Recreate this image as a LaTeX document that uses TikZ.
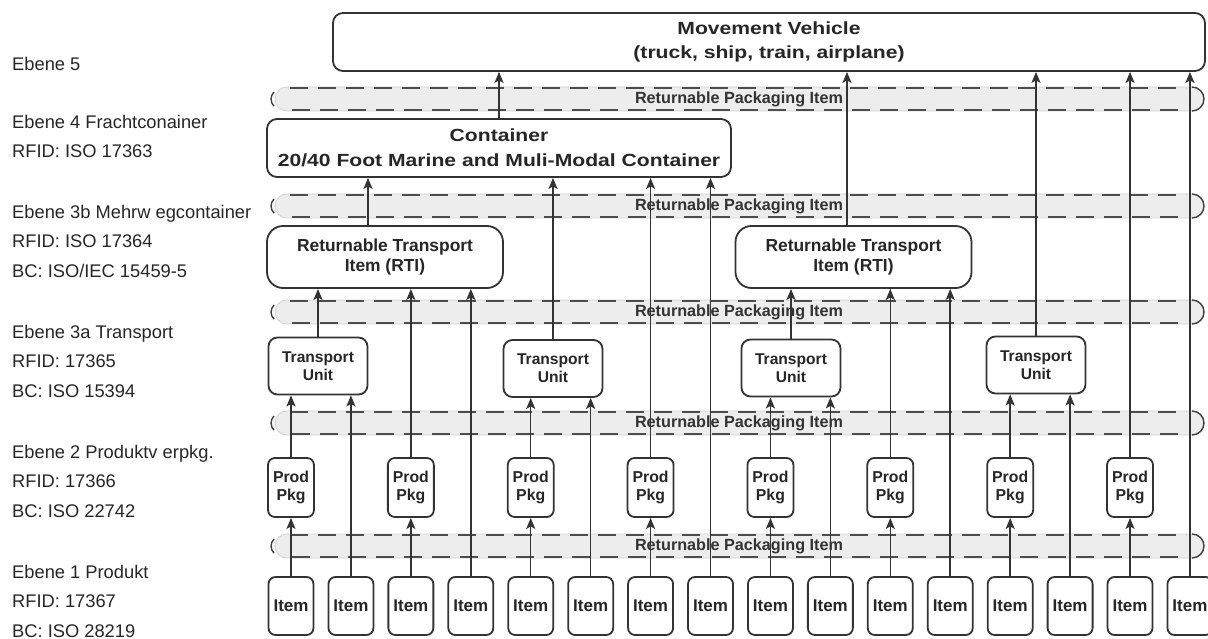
\documentclass[tikz,border=0pt]{standalone}
\usepackage{fontspec}
\setmainfont{Liberation Sans}
\newfontfamily\widesf[FakeStretch=1.2]{Liberation Sans}
\usetikzlibrary{arrows.meta}

\def\itemgap{59.93}

\begin{document}
\begin{tikzpicture}[x=1pt,y=-1pt,line join=round]
    \tikzstyle{flow}=[draw=black!80, line width=1.5pt, -{Stealth[length=11pt,width=9pt,inset=2.5pt]}]
    \tikzstyle{box}=[draw=black!80, line width=1.8pt, fill=white, text=black!85, align=center, inner sep=0pt, rounded corners=7pt]
    \tikzstyle{itembox}=[box, minimum width=45pt, minimum height=58pt, font=\fontsize{17}{20}\selectfont\bfseries]
    \tikzstyle{prodbox}=[box, minimum width=46pt, minimum height=59pt, font=\fontsize{15.8}{18}\selectfont\bfseries]
    \tikzstyle{unitbox}=[box, minimum width=99pt, minimum height=57pt, rounded corners=9pt, font=\fontsize{15.6}{18}\selectfont\bfseries]
    \tikzstyle{rtibox}=[box, minimum width=236pt, minimum height=62pt, rounded corners=16pt, font=\fontsize{17.4}{20}\selectfont\bfseries]
    \tikzstyle{bigbox}=[box, minimum height=58pt, rounded corners=10pt, font=\widesf\fontsize{17.6}{24.5}\selectfont\bfseries]
    \tikzstyle{ebene}=[anchor=north west, align=left, inner sep=0pt, text=black!85, font=\fontsize{18.3}{29.5}\selectfont]
    \tikzstyle{bandlabel}=[inner sep=0pt, text=black!80, font=\fontsize{16.2}{18}\selectfont\bfseries]
    \tikzstyle{bandfill}=[fill=black!7, draw=black!18, line width=0.8pt, rounded corners=12pt]
    \tikzstyle{bandline}=[draw=black!70, line width=2pt, dash pattern=on 18pt off 10pt]

    \useasboundingbox (0,0) rectangle (1208,639);

    % Level descriptions on the left
    \node[ebene] (L5) at (12,57) {Ebene 5};
    \node[ebene] (L4) at (12,115) {Ebene 4 Frachtconainer\\RFID: ISO 17363};
    \node[ebene] (L3b) at (12,205) {Ebene 3b Mehrw egcontainer\\RFID: ISO 17364\\BC: ISO/IEC 15459-5};
    \node[ebene] (L3a) at (12,325) {Ebene 3a Transport\\RFID: 17365\\BC: ISO 15394};
    \node[ebene] (L2) at (12,445) {Ebene 2 Produktv erpkg.\\RFID: 17366\\BC: ISO 22742};
    \node[ebene] (L1) at (12,565) {Ebene 1 Produkt\\RFID: 17367\\BC: ISO 28219};

    % Draw the returnable packaging bands
    \foreach \name/\y in {1/546,2/423,3/312,4/206,5/99} {
        \path[bandfill] (275,\y-12) rectangle (1204,\y+12);
        \draw[bandline] (290,\y-11) -- (1186,\y-11);
        \draw[bandline] (292,\y+11) -- (1186,\y+11);
        \draw[black!75, line width=1.4pt] (1192,\y-12) arc[start angle=90, end angle=-90, radius=12pt];
        \draw[black!75, line width=1.4pt] (274,\y-7) arc[start angle=135, end angle=225, radius=10pt];
        \node[bandlabel] (R-\name) at (739,\y) {Returnable Packaging Item};
    }

    % Draw the items
    \foreach \name in {1,...,16}
        \node[itembox] (I-\name) at ({291+\itemgap*(\name-1)},606) {Item};

    % Draw the product packages above every odd item
    \foreach \name in {1,3,...,15}
        \node[prodbox] (P-\name) at ({291+\itemgap*(\name-1)},487.5) {Prod\\Pkg};

    % Transport units
    \node[unitbox] (T-1) at (318,366) {Transport\\Unit};
    \node[unitbox] (T-2) at (553,368.5) {Transport\\Unit};
    \node[unitbox] (T-3) at (791,368) {Transport\\Unit};
    \node[unitbox] (T-4) at (1036,365) {Transport\\Unit};

    % Returnable transport items
    \node[rtibox] (RTI-1) at (385,257) {Returnable Transport\\Item (RTI)};
    \node[rtibox] (RTI-2) at (853.5,257) {Returnable Transport\\Item (RTI)};

    % Container and vehicle
    \node[bigbox, minimum width=464pt] (C) at (499,148) {Container\\20/40 Foot Marine and Muli-Modal Container};
    \node[bigbox, minimum width=872pt] (V) at (769,42) {Movement Vehicle\\(truck, ship, train, airplane)};

    % Items into product packages
    \foreach \name in {1,3,...,15}
        \draw[flow] (I-\name) -- (P-\name);

    % Into the transport units
    \foreach \src/\dest in {P-1/T-1,I-2/T-1,P-5/T-2,I-6/T-2,P-9/T-3,I-10/T-3,P-13/T-4,I-14/T-4}
        \draw[flow] (\src.north) -- (\src.north |- \dest.south);

    % Into the returnable transport items
    \foreach \src/\dest in {T-1/RTI-1,P-3/RTI-1,I-4/RTI-1,T-3/RTI-2,P-11/RTI-2,I-12/RTI-2}
        \draw[flow] (\src.north) -- (\src.north |- \dest.south);

    % Into the container
    \coordinate (rti1 out) at ([xshift=-17pt]RTI-1.north);
    \draw[flow] (rti1 out) -- (rti1 out |- C.south);
    \foreach \src in {T-2,P-7,I-8}
        \draw[flow] (\src.north) -- (\src.north |- C.south);

    % Into the movement vehicle
    \coordinate (rti2 out) at ([xshift=-6.5pt]RTI-2.north);
    \draw[flow] (rti2 out) -- (rti2 out |- V.south);
    \foreach \src in {C,T-4,P-15,I-16}
        \draw[flow] (\src.north) -- (\src.north |- V.south);
\end{tikzpicture}
\end{document}
